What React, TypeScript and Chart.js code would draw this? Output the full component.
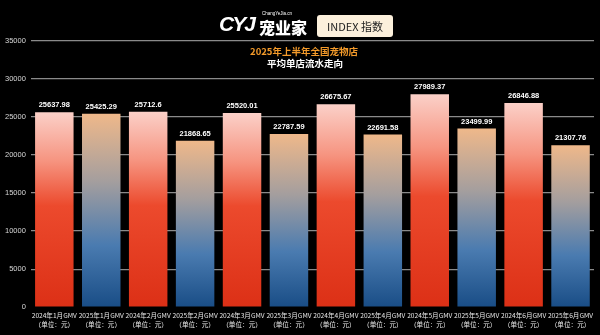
import React, { useEffect, useRef } from "react";
import { Chart, registerables } from "chart.js";

Chart.register(...registerables);

const categories: string[] = [
  "2024年1月GMV", "2025年1月GMV", "2024年2月GMV", "2025年2月GMV",
  "2024年3月GMV", "2025年3月GMV", "2024年4月GMV", "2025年4月GMV",
  "2024年5月GMV", "2025年5月GMV", "2024年6月GMV", "2025年6月GMV",
];
const unitLabel = "（单位：元）";
const gmvValues: number[] = [
  25637.98, 25425.29, 25712.6, 21868.65, 25520.01, 22787.59,
  26675.67, 22691.58, 27989.37, 23499.99, 26846.88, 21307.76,
];
const valueLabels: string[] = [
  "25637.98", "25425.29", "25712.6", "21868.65", "25520.01", "22787.59",
  "26675.67", "22691.58", "27989.37", "23499.99", "26846.88", "21307.76",
];
const yMax = 35000;
const yStep = 5000;
const titleLine1 = "2025年上半年全国宠物店";
const titleLine2 = "平均单店流水走向";

const redStops: [number, string][] = [
  [0, "#fbd0c8"], [0.25, "#f69480"], [0.48, "#ec4a2d"], [1, "#dc3016"],
];
const blueStops: [number, string][] = [
  [0, "#efb88a"], [0.35, "#a49e9e"], [0.68, "#4a7bb0"], [1, "#194d86"],
];

const valueLabelPlugin = {
  id: "valueLabels",
  afterDatasetsDraw(chart: any) {
    const meta = chart.getDatasetMeta(0);
    const ctx = chart.ctx;
    ctx.save();
    ctx.fillStyle = "#ffffff";
    ctx.font = "bold 7.5px 'Liberation Sans', Arial, sans-serif";
    ctx.textAlign = "center";
    ctx.textBaseline = "middle";
    meta.data.forEach((bar: any, i: number) => {
      ctx.fillText(valueLabels[i], bar.x, bar.y - 7);
    });
    ctx.restore();
  },
};

export default function App() {
  const canvasRef = useRef<HTMLCanvasElement | null>(null);

  useEffect(() => {
    document.body.style.margin = "0";
    document.body.style.background = "#000";
    const canvas = canvasRef.current;
    if (!canvas) return;
    const chart = new Chart(canvas, {
      type: "bar",
      data: {
        labels: categories.map((c) => [c, unitLabel]),
        datasets: [
          {
            data: gmvValues,
            barPercentage: 0.82,
            categoryPercentage: 1,
            backgroundColor: (c: any) => {
              const ch = c.chart;
              const i = c.dataIndex;
              const isRed = i % 2 === 0;
              const ys = ch.scales && ch.scales.y;
              if (!ys || c.type !== "data") return isRed ? "#e8401f" : "#3a6ea8";
              const top = ys.getPixelForValue(gmvValues[i]);
              const bottom = ys.getPixelForValue(0);
              if (!isFinite(top) || !isFinite(bottom) || top === bottom) return isRed ? "#e8401f" : "#3a6ea8";
              const g = ch.ctx.createLinearGradient(0, top, 0, bottom);
              (isRed ? redStops : blueStops).forEach(([o, col]) => g.addColorStop(o, col));
              return g;
            },
          },
        ],
      },
      options: {
        animation: false,
        responsive: false,
        maintainAspectRatio: false,
        layout: { padding: { top: 41, left: 0, right: 6, bottom: 2 } },
        plugins: {
          legend: { display: false },
          tooltip: { enabled: false },
          title: { display: false },
        },
        scales: {
          x: {
            grid: { display: false, drawTicks: false },
            border: { display: false },
            ticks: {
              color: "#e8e8e8",
              font: { size: 6.6, family: "'Noto Sans CJK SC', sans-serif", lineHeight: 1.35 },
              maxRotation: 0,
              minRotation: 0,
              autoSkip: false,
              padding: 4,
            },
          },
          y: {
            min: 0,
            max: yMax,
            border: { display: false },
            grid: {
              color: (c: any) => (c.tick && c.tick.value === 0 ? "rgba(0,0,0,0)" : "#8a8a8a"),
              lineWidth: 1.3,
              drawTicks: false,
            },
            ticks: {
              stepSize: yStep,
              color: "#d8d8d8",
              font: { size: 7.5, family: "'Liberation Sans', Arial, sans-serif" },
              padding: 5,
              callback: (v: any) => String(v),
            },
          },
        },
      },
      plugins: [valueLabelPlugin],
    });
    return () => chart.destroy();
  }, []);

  return (
    <div style={{ position: "relative", width: 600, height: 335, background: "#000", overflow: "hidden" }}>
      <canvas ref={canvasRef} width={600} height={335} style={{ display: "block" }} />
      <div style={{ position: "absolute", left: 219, top: 10, color: "#fff", fontFamily: "'Liberation Sans', Arial, sans-serif", fontWeight: 900, fontSize: 21, fontStyle: "italic", letterSpacing: -2, lineHeight: "28px" }}>
        CYJ
      </div>
      <div style={{ position: "absolute", left: 262, top: 11, color: "#fff", fontFamily: "'Liberation Sans', Arial, sans-serif", fontSize: 4.5, lineHeight: "6px" }}>
        ChangYeJia.cn
      </div>
      <div style={{ position: "absolute", left: 259, top: 16, color: "#fff", fontFamily: "'Noto Sans CJK SC', sans-serif", fontWeight: 900, fontSize: 16, lineHeight: "22px" }}>
        宠业家
      </div>
      <div style={{ position: "absolute", left: 317, top: 15, width: 76, height: 22, background: "#fcf0dc", borderRadius: 3, color: "#222", fontFamily: "'Noto Sans CJK SC', sans-serif", fontSize: 11, lineHeight: "22px", textAlign: "center" }}>
        INDEX 指数
      </div>
      <div style={{ position: "absolute", left: 0, width: 608, top: 45, textAlign: "center", color: "#f39a2a", fontFamily: "'Noto Sans CJK SC', sans-serif", fontWeight: 700, fontSize: 9.5, lineHeight: "13px" }}>
        {titleLine1}
      </div>
      <div style={{ position: "absolute", left: 0, width: 610, top: 57, textAlign: "center", color: "#fff", fontFamily: "'Noto Sans CJK SC', sans-serif", fontWeight: 700, fontSize: 9.5, lineHeight: "13px" }}>
        {titleLine2}
      </div>
    </div>
  );
}
